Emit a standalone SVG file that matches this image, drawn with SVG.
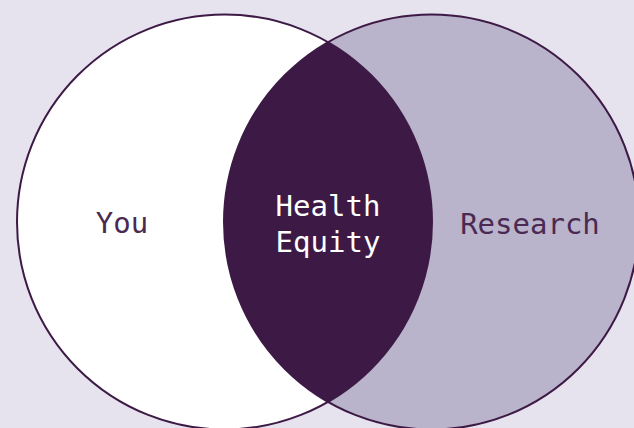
<svg xmlns="http://www.w3.org/2000/svg" width="634" height="428" viewBox="0 0 634 428">
<style>
.lbl{font-family:"DejaVu Sans Mono","Liberation Mono",monospace;font-size:29px;text-anchor:middle}
.dark{fill:#4a2a52}
.light{fill:#ffffff}
.ring{fill:none;stroke:#3d1a45;stroke-width:2}
</style>
<rect width="634" height="428" fill="#e6e2ee"/>
<g id="you">
<circle cx="224.5" cy="222" r="207.5" fill="#ffffff"/>
</g>
<g id="research">
<circle cx="431.5" cy="222" r="207.5" fill="#b9b3cb"/>
</g>
<g id="health-equity">
<path d="M328 42.16 A207.5 207.5 0 0 1 328 401.84 A207.5 207.5 0 0 1 328 42.16 Z" fill="#3d1a45"/>
</g>
<g id="outlines">
<circle class="ring" cx="224.5" cy="222" r="207.5"/>
<circle class="ring" cx="431.5" cy="222" r="207.5"/>
</g>
<text class="lbl dark" x="122" y="233">You</text>
<text class="lbl dark" x="530" y="234">Research</text>
<text class="lbl light" x="328" y="216">Health</text>
<text class="lbl light" x="328" y="252">Equity</text>
</svg>
